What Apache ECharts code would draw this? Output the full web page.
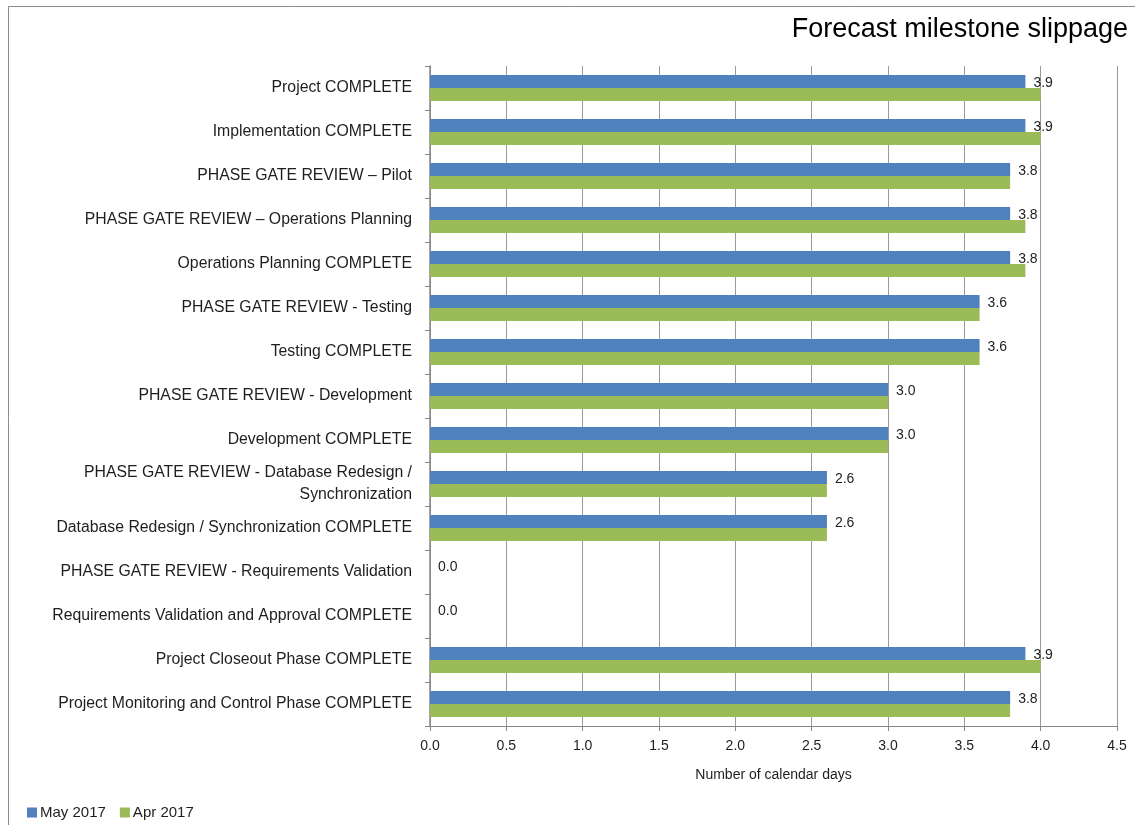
<!DOCTYPE html>
<html>
<head>
<meta charset="utf-8">
<script src="https://cdn.jsdelivr.net/npm/echarts@6/dist/echarts.min.js"></script>
<style>
  html, body { margin: 0; padding: 0; background: #fff; }
  #chart { width: 1135px; height: 825px; }
</style>
</head>
<body>
<div id="chart"></div>
<script>
// Milestones, listed top to bottom
const milestones = [
  'Project COMPLETE',
  'Implementation COMPLETE',
  'PHASE GATE REVIEW \u2013 Pilot',
  'PHASE GATE REVIEW \u2013 Operations Planning',
  'Operations Planning COMPLETE',
  'PHASE GATE REVIEW - Testing',
  'Testing COMPLETE',
  'PHASE GATE REVIEW - Development',
  'Development COMPLETE',
  'PHASE GATE REVIEW - Database Redesign /\nSynchronization',
  'Database Redesign / Synchronization COMPLETE',
  'PHASE GATE REVIEW - Requirements Validation',
  'Requirements Validation and Approval COMPLETE',
  'Project Closeout Phase COMPLETE',
  'Project Monitoring and Control Phase COMPLETE'
];

// Slippage in calendar days per reporting month
const may2017 = [3.9, 3.9, 3.8, 3.8, 3.8, 3.6, 3.6, 3.0, 3.0, 2.6, 2.6, 0.0, 0.0, 3.9, 3.8];
const apr2017 = [4.0, 4.0, 3.8, 3.9, 3.9, 3.6, 3.6, 3.0, 3.0, 2.6, 2.6, 0.0, 0.0, 4.0, 3.8];

const seriesNames = ['May 2017', 'Apr 2017'];
const xTicks = { min: 0, max: 4.5, interval: 0.5 };

const FONT = '"Liberation Sans", Arial, sans-serif';
const TEXT = '#1e1e1e';
const AXIS = '#868686';
const GRID = '#9a9a9a';

const chart = echarts.init(document.getElementById('chart'), null, { renderer: 'canvas' });

chart.setOption({
  animation: false,
  backgroundColor: '#fff',
  textStyle: { fontFamily: FONT },
  graphic: [{
    type: 'rect',
    shape: { x: 8.5, y: 6.5, width: 1135, height: 830 },
    style: { fill: 'none', stroke: '#8c8c8c', lineWidth: 1 },
    silent: true
  }],
  title: {
    text: 'Forecast milestone slippage',
    right: 2,
    top: 11,
    textStyle: {
      fontFamily: '"Liberation Sans Narrow", "Liberation Sans", Arial, sans-serif',
      fontSize: 27,
      fontWeight: 'normal',
      color: '#000'
    }
  },
  legend: {
    left: 22,
    bottom: 0,
    itemWidth: 10,
    itemHeight: 10,
    itemGap: 14,
    icon: 'rect',
    textStyle: { fontSize: 15, color: TEXT, fontFamily: FONT, padding: [0, 0, 0, -2] },
    data: seriesNames
  },
  grid: { left: 430, right: 18, top: 66, bottom: 99, containLabel: false },
  xAxis: {
    type: 'value',
    min: xTicks.min,
    max: xTicks.max,
    interval: xTicks.interval,
    name: 'Number of calendar days',
    nameLocation: 'middle',
    nameGap: 42,
    nameTextStyle: { fontSize: 14, color: TEXT, fontFamily: FONT },
    axisLine: { show: true, lineStyle: { color: AXIS, width: 1 } },
    axisTick: { show: true, length: 5, lineStyle: { color: AXIS } },
    axisLabel: {
      fontSize: 14,
      color: TEXT,
      margin: 13,
      formatter: v => v.toFixed(1)
    },
    splitLine: { show: true, lineStyle: { color: GRID, width: 1 } }
  },
  yAxis: {
    type: 'category',
    inverse: true,
    data: milestones,
    axisLine: { show: true, lineStyle: { color: AXIS, width: 1.5 } },
    axisTick: { show: true, length: 5, lineStyle: { color: AXIS } },
    axisLabel: {
      fontSize: 15.8,
      color: TEXT,
      margin: 18,
      align: 'right',
      lineHeight: 22
    },
    splitLine: { show: false }
  },
  series: [
    {
      name: seriesNames[0],
      type: 'bar',
      data: may2017,
      barWidth: 13,
      barGap: '0%',
      itemStyle: { color: '#4F81BD' },
      label: {
        show: true,
        position: 'right',
        distance: 8,
        offset: [0, 2],
        fontSize: 14,
        color: TEXT,
        formatter: p => p.value.toFixed(1)
      }
    },
    {
      name: seriesNames[1],
      type: 'bar',
      data: apr2017,
      barWidth: 13,
      barGap: '0%',
      itemStyle: { color: '#9BBB59' }
    }
  ]
});
</script>
</body>
</html>
